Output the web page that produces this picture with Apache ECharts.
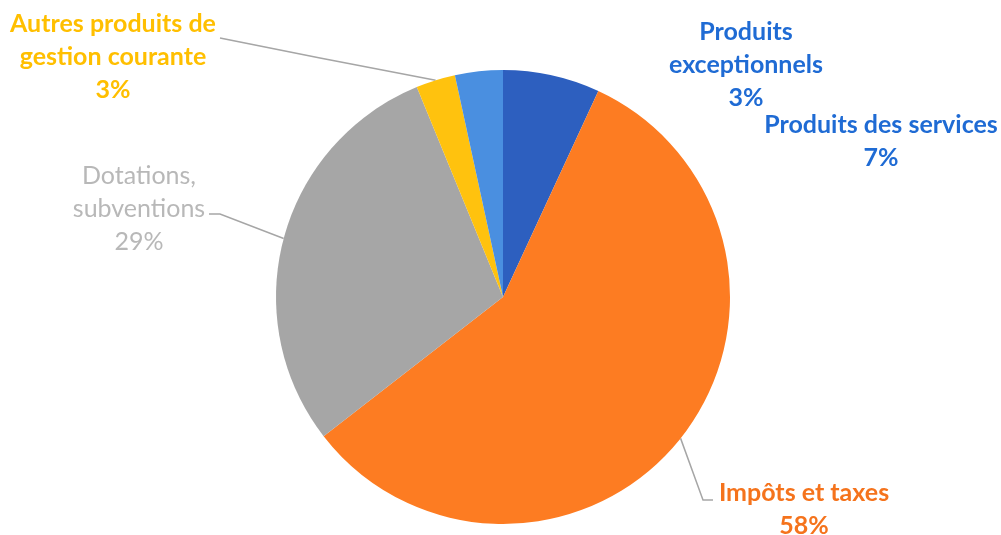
<!DOCTYPE html>
<html lang="fr">
<head>
  <meta charset="UTF-8">
  <title>Répartition des recettes</title>
  <script src="https://cdn.jsdelivr.net/npm/echarts@6/dist/echarts.min.js"></script>
</head>
<body style="margin:0; background:#fff">
  <div id="app" style="width: 1001px; height: 535px;"></div>
  <script>
    // données (sens horaire depuis midi)
    var categories = ['Produits des services', 'Impôts et taxes', 'Dotations, subventions', 'Autres produits de gestion courante', 'Produits exceptionnels']
    var labelTexts = ['Produits des services', 'Impôts et taxes', 'Dotations,\nsubventions', 'Autres produits de\ngestion courante', 'Produits\nexceptionnels']
    var values = [6.9, 57.6, 29.3, 2.8, 3.4]
    var colors = ['#2d5fbf', '#fd7c22', '#a6a6a6', '#ffc20e', '#4a8fe0']
    var labelColors = ['#1f6bd4', '#f5731c', '#b8b8b8', '#ffbf00', '#1f6bd4']

    // placement des étiquettes (centre du bloc de texte)
    var labelPos = [[881, 141], [804, 509], [139, 209], [113, 57], [746, 65]]
    // fin des traits de rappel : [coude, bout]
    var lineEnds = [null, [[703, 500], [713, 500]], [[220, 214], [209, 214]], [[320, 58], [220, 38]], null]

    var mCharts = echarts.init(document.querySelector('#app'))

    var data = values.map(function (v, i) {
      return {
        name: categories[i],
        value: v,
        itemStyle: { color: colors[i] },
        label: {
          color: labelColors[i],
          fontWeight: i === 2 ? 'normal' : 'bold'
        },
        labelLine: { show: lineEnds[i] != null }
      }
    })

    var option = {
      animation: false,
      series: [{
        type: 'pie',
        center: [503, 297],
        radius: 227,
        startAngle: 90,
        percentPrecision: 0,
        data: data,
        label: {
          show: true,
          position: 'outside',
          fontFamily: 'Lato',
          fontSize: 25,
          lineHeight: 33,
          align: 'center',
          formatter: function (p) {
            return labelTexts[p.dataIndex] + '\n' + p.percent + '%'
          }
        },
        labelLine: {
          lineStyle: { color: '#a6a6a6', width: 1.5 }
        },
        labelLayout: function (params) {
          var i = params.dataIndex
          var res = { x: labelPos[i][0], y: labelPos[i][1], align: 'center', verticalAlign: 'middle' }
          if (lineEnds[i] && params.labelLinePoints) {
            var a = params.labelLinePoints[0]
            res.labelLinePoints = [[a[0], a[1]], lineEnds[i][0], lineEnds[i][1]]
          }
          return res
        }
      }]
    }
    mCharts.setOption(option)
  </script>
</body>
</html>
